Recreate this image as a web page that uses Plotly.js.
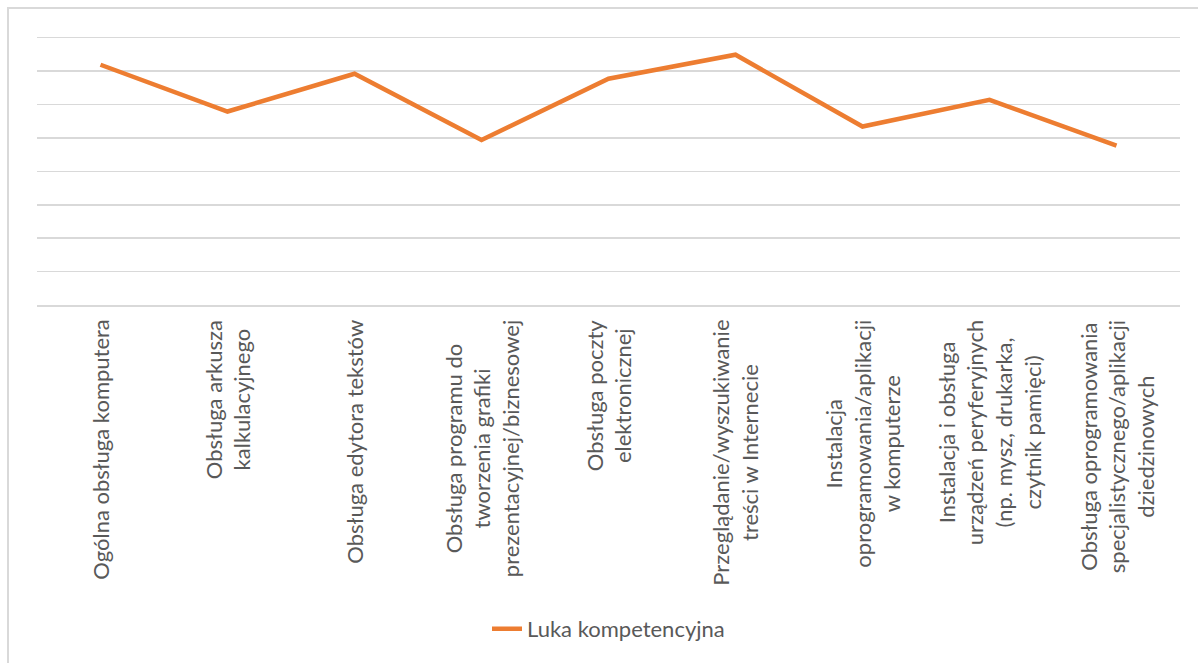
<!DOCTYPE html>
<html>
<head>
<meta charset="utf-8">
<script src="https://cdn.plot.ly/plotly-3.0.1.min.js"></script>
<style>
  html, body { margin: 0; padding: 0; background: #ffffff; overflow: hidden; }
  #chart { position: absolute; left: 0; top: 0; width: 1198px; height: 663px; }
  #frame { position: absolute; left: 7px; top: 7px; width: 1210px; height: 700px;
           border: 2px solid #d9d9d9; box-sizing: border-box; pointer-events: none; }
</style>
</head>
<body>
<div id="frame"></div>
<div id="chart"></div>
<script>
const categories = [
  "Ogólna obsługa komputera",
  "Obsługa arkusza<br>kalkulacyjnego",
  "Obsługa edytora tekstów",
  "Obsługa programu do<br>tworzenia grafiki<br>prezentacyjnej/biznesowej",
  "Obsługa poczty<br>elektronicznej",
  "Przeglądanie/wyszukiwanie<br>treści w Internecie",
  "Instalacja<br>oprogramowania/aplikacji<br>w komputerze",
  "Instalacja i obsługa<br>urządzeń peryferyjnych<br>(np. mysz, drukarka,<br>czytnik pamięci)",
  "Obsługa oprogramowania<br>specjalistycznego/aplikacji<br>dziedzinowych"
];
const seriesName = "Luka kompetencyjna";
const values = [7.19, 5.79, 6.92, 4.94, 6.77, 7.49, 5.34, 6.14, 4.77];

const FONT = "Lato, 'Open Sans', sans-serif";
const TEXT_COLOR = "#595959";
const GRID = "#d9d9d9";

const trace = {
  type: "scatter",
  mode: "lines",
  name: seriesName,
  x: categories,
  y: values,
  line: { color: "#ED7D31", width: 4.5 },
  hoverinfo: "x+y"
};

const annotations = categories.map(c => ({
  x: c, xref: "x",
  y: -0.048, yref: "paper",
  text: c,
  textangle: -90,
  showarrow: false,
  xanchor: "center",
  yanchor: "top",
  align: "center",
  font: { family: FONT, size: 22, color: TEXT_COLOR }
}));

const layout = {
  width: 1198, height: 663,
  margin: { l: 37, r: 18, t: 31, b: 358, pad: 0 },
  paper_bgcolor: "rgba(0,0,0,0)",
  plot_bgcolor: "rgba(0,0,0,0)",
  showlegend: true,
  legend: {
    orientation: "h",
    x: 0.5, xanchor: "center",
    y: -1.182, yanchor: "middle",
    font: { family: FONT, size: 22, color: TEXT_COLOR },
    bgcolor: "rgba(0,0,0,0)"
  },
  xaxis: {
    type: "category",
    range: [-0.5, categories.length - 0.5],
    showticklabels: false,
    ticks: "",
    showgrid: false,
    zeroline: false,
    showline: true,
    linecolor: GRID,
    linewidth: 2,
    fixedrange: true
  },
  yaxis: {
    range: [0, 8.2],
    dtick: 1,
    showticklabels: false,
    ticks: "",
    showgrid: true,
    gridcolor: GRID,
    gridwidth: 1.5,
    zeroline: false,
    showline: false,
    fixedrange: true
  },
  annotations: annotations
};

Plotly.newPlot("chart", [trace], layout, { displayModeBar: false, staticPlot: true });
</script>
</body>
</html>
